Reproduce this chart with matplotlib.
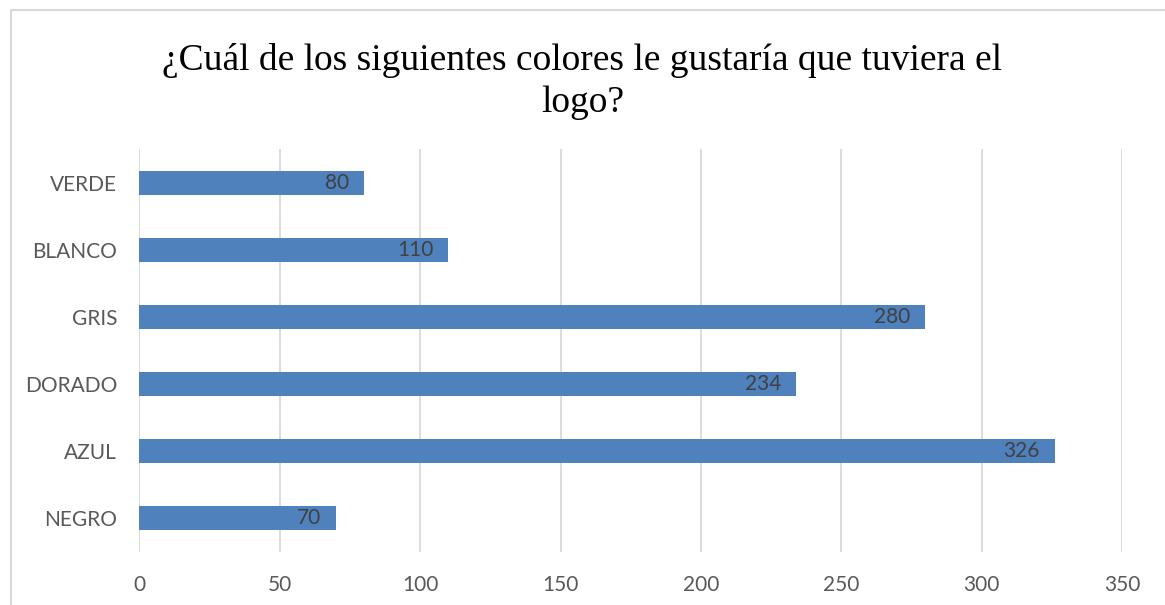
import matplotlib
matplotlib.use('Agg')
import matplotlib.pyplot as plt
from matplotlib.patches import Rectangle

# Survey answers: preferred logo colours
colores = ["VERDE", "BLANCO", "GRIS", "DORADO", "AZUL", "NEGRO"]
respuestas = [80, 110, 280, 234, 326, 70]
ticks_x = [0, 50, 100, 150, 200, 250, 300, 350]
titulo = "¿Cuál de los siguientes colores le gustaría que tuviera el\nlogo?"

BAR_COLOR = "#4F81BD"
GRID_COLOR = "#D9D9D9"
TEXT_COLOR = "#595959"
LABEL_COLOR = "#404040"

fig = plt.figure(figsize=(11.65, 6.05), dpi=100)
ax = fig.add_axes([0.1197, 0.0884, 0.8434, 0.6645])

# top category first
pos = list(range(len(colores)))[::-1]
ax.barh(pos, respuestas, height=0.35, color=BAR_COLOR, zorder=2)

for y, v in zip(pos, respuestas):
    ax.annotate(str(v), xy=(v, y), xytext=(-15, 0), textcoords="offset pixels",
                ha="right", va="center", fontsize=15, family="Lato",
                color=LABEL_COLOR, zorder=3)

ax.set_xlim(0, 350)
ax.set_ylim(-0.5, len(colores) - 0.5)
ax.set_xticks(ticks_x)
ax.set_yticks(pos)
ax.set_yticklabels(colores)
ax.grid(axis="x", color=GRID_COLOR, linewidth=1.3, zorder=0)
ax.set_axisbelow(True)
ax.tick_params(length=0, labelsize=15, labelcolor=TEXT_COLOR)
ax.tick_params(axis="y", pad=16)
ax.tick_params(axis="x", pad=17)
for lbl in ax.get_xticklabels() + ax.get_yticklabels():
    lbl.set_family("Lato")
for s in ax.spines.values():
    s.set_visible(False)

fig.text(0.5, 0.865, titulo, ha="center", va="center", fontsize=27,
         family="Liberation Serif", color="black", linespacing=1.3)

# chart-area frame, running off the right and bottom edges
fig.patches.append(Rectangle((10.5 / 1165, -0.05), 1.1, 1.05 - 10.5 / 605,
                             transform=fig.transFigure, fill=False,
                             edgecolor=GRID_COLOR, linewidth=1.5))

fig.savefig("out.png", dpi=100)
